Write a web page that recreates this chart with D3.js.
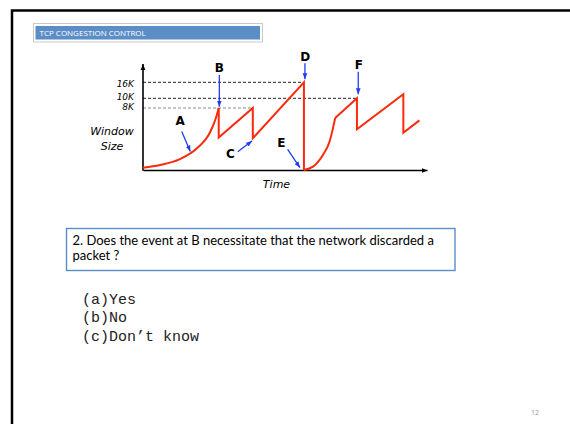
<!DOCTYPE html>
<html>
<head>
<meta charset="utf-8">
<script src="https://cdn.jsdelivr.net/npm/d3@7"></script>
<style>
  body { margin: 0; background: #fff; }
  svg { display: block; }
</style>
</head>
<body>
<div id="chart"></div>
<script>
/**
 * Data
 */
// congestion window trace: time in rounds, window in K
const traceTime   = [0, 1.8, 3.9, 5.7, 7.1, 7.7, 8.0, 8.0, 11.6, 11.6, 17.0, 17.0, 17.96, 19.0, 19.7, 20.07, 20.3, 22.6, 22.6, 27.5, 27.5, 29.2];
const traceWindow = [0.3, 0.65, 1.4, 2.8, 4.9, 6.7, 8, 4.2, 8, 4.1, 16, 0, 0.43, 1.94, 3.65, 5.4, 6.7, 10, 5.25, 11.5, 4.8, 6.4];
// "ss" = slow start (curved), "ca" = congestion avoidance / drops (straight)
const tracePhase  = ["ss", "ss", "ss", "ss", "ss", "ss", "ss", "ca", "ca", "ca", "ca", "ss", "ss", "ss", "ss", "ss", "ss", "ca", "ca", "ca", "ca", "ca"];

const guideValues = [16, 10, 8];
const guideLabels = ["16K", "10K", "8K"];
const guideUntil  = [17, 22.6, 11.6];

const eventLabels = ["A", "B", "C", "D", "E", "F"];
const eventTime   = [5, 8, 11.6, 17, 17, 22.6];
const eventWindow = [2.4, 8, 4.1, 16, 0, 10];

const titleText = "TCP CONGESTION CONTROL";
const questionLines = ["2. Does the event at B necessitate that the network discarded a", "packet ?"];
const answerOptions = ["(a)Yes", "(b)No", "(c)Don\u2019t know"];
const pageNumber = "12";

/**
 * Basic Settings
 */
const canvasWidth = 570;
const canvasHeight = 424;
const plotLeft = 143;
const plotRight = 427;
const plotBottom = 170;
const axisTop = 64;

const red = "#fb2a0d";
const blue = "#1f3df2";
const slideBlue = "#5b8ec6";

const svg = d3.select("#chart")
  .append("svg")
  .attr("width", canvasWidth)
  .attr("height", canvasHeight)
  .style("background", "#fff");

const defs = svg.append("defs");
function marker(id, color, size) {
  defs.append("marker")
    .attr("id", id)
    .attr("markerUnits", "userSpaceOnUse")
    .attr("viewBox", "0 0 10 10")
    .attr("refX", 10)
    .attr("refY", 5)
    .attr("markerWidth", size)
    .attr("markerHeight", size)
    .attr("orient", "auto")
    .append("path")
    .attr("d", "M0,1 L10,5 L0,9 z")
    .attr("fill", color);
}
marker("arrow-blue", blue, 6);
marker("arrow-black", "#000", 6);

/**
 * Slide frame and title
 */
svg.append("rect")
  .attr("x", 12).attr("y", 10.5)
  .attr("width", 700).attr("height", 600)
  .attr("fill", "none")
  .attr("stroke", "#000")
  .attr("stroke-width", 2.5);

svg.append("rect")
  .attr("x", 33.5).attr("y", 23.5)
  .attr("width", 229).attr("height", 18.5)
  .attr("fill", "#fff")
  .attr("stroke", "#c9c9c9");
svg.append("rect")
  .attr("x", 35.5).attr("y", 26)
  .attr("width", 224.5).attr("height", 13.5)
  .attr("fill", slideBlue);
svg.append("text")
  .attr("x", 39.5).attr("y", 36)
  .attr("fill", "#fff")
  .style("font-family", "'Open Sans', sans-serif")
  .style("font-size", "8px")
  .text(titleText);

/**
 * Scales
 */
const xScale = d3.scaleLinear()
  .domain([0, 30])
  .range([plotLeft, plotRight]);

// the slide's window axis is not to scale, so use a piecewise scale
const yScale = d3.scaleLinear()
  .domain([0, 8, 10, 16])
  .range([plotBottom, 108, 98.3, 82.3]);

/**
 * Guides
 */
guideValues.forEach(function(v, i) {
  svg.append("line")
    .attr("x1", xScale(0)).attr("x2", xScale(guideUntil[i]))
    .attr("y1", yScale(v)).attr("y2", yScale(v))
    .attr("stroke", v === 8 ? "#8a8a8a" : "#222")
    .attr("stroke-width", 1)
    .attr("stroke-dasharray", "3,2");
});

/**
 * Axes
 */
const xAxis = d3.axisBottom(xScale).tickValues([]).tickSizeOuter(0);
const gx = svg.append("g")
  .attr("transform", "translate(0," + plotBottom + ")")
  .call(xAxis);
gx.select(".domain")
  .attr("stroke", "#000")
  .attr("stroke-width", 1.6)
  .attr("marker-end", "url(#arrow-black)");

svg.append("line")
  .attr("x1", plotLeft).attr("x2", plotLeft)
  .attr("y1", plotBottom + 0.8).attr("y2", axisTop)
  .attr("stroke", "#000")
  .attr("stroke-width", 1.6)
  .attr("marker-end", "url(#arrow-black)");

const yAxis = d3.axisLeft(yScale)
  .tickValues(guideValues)
  .tickSize(0)
  .tickPadding(9)
  .tickFormat(function(d, i) { return guideLabels[i]; });
const gy = svg.append("g")
  .attr("transform", "translate(" + plotLeft + ",0)")
  .call(yAxis);
gy.select(".domain").remove();
gy.selectAll("text")
  .attr("fill", "#000")
  .attr("dy", function(d) { return d === 8 ? "0.22em" : (d === 10 ? "0.11em" : "0.47em"); })
  .style("font-family", "'DejaVu Sans', sans-serif")
  .style("font-style", "italic")
  .style("font-size", "9px");

svg.append("text")
  .attr("x", 112).attr("y", 134.5)
  .attr("text-anchor", "middle")
  .style("font-family", "'DejaVu Sans', sans-serif")
  .style("font-style", "italic")
  .style("font-size", "11px")
  .text("Window");
svg.append("text")
  .attr("x", 112).attr("y", 149.5)
  .attr("text-anchor", "middle")
  .style("font-family", "'DejaVu Sans', sans-serif")
  .style("font-style", "italic")
  .style("font-size", "11px")
  .text("Size");
svg.append("text")
  .attr("x", 276.5).attr("y", 187.5)
  .attr("text-anchor", "middle")
  .style("font-family", "'DejaVu Sans', sans-serif")
  .style("font-style", "italic")
  .style("font-size", "11px")
  .text("Time");

/**
 * Window trace
 */
const tracePoints = traceTime.map(function(t, i) {
  return { t: t, w: traceWindow[i], p: tracePhase[i] };
});
const runs = [];
for (let i = 0; i < tracePoints.length - 1; i++) {
  const curved = tracePoints[i].p === "ss" && tracePoints[i + 1].p === "ss";
  const last = runs[runs.length - 1];
  if (last && last.curved === curved) last.pts.push(tracePoints[i + 1]);
  else runs.push({ curved: curved, pts: [tracePoints[i], tracePoints[i + 1]] });
}

const line = d3.line()
  .x(function(d) { return xScale(d.t); })
  .y(function(d) { return yScale(d.w); });

svg.selectAll(".trace")
  .data(runs)
  .enter()
  .append("path")
  .attr("class", "trace")
  .attr("d", function(r) {
    return line.curve(r.curved ? d3.curveMonotoneX : d3.curveLinear)(r.pts);
  })
  .attr("fill", "none")
  .attr("stroke", red)
  .attr("stroke-width", 2)
  .attr("stroke-linejoin", "miter")
  .attr("stroke-linecap", "butt");

/**
 * Event annotations
 */
// pixel offsets from the event point: arrow tail, arrow head, label
const eventLayout = {
  A: { tail: [-8.6, -20], head: [0, 0], label: [-10.3, -26.4] },
  B: { tail: [0.6, -33], head: [0.6, -1.3], label: [0.6, -35.7] },
  C: { tail: [-15.1, 13.5], head: [-0.8, 2.8], label: [-22.5, 20.1] },
  D: { tail: [1, -19], head: [1, -3], label: [1.2, -21.3] },
  E: { tail: [-16.3, -20.7], head: [-4, -2.3], label: [-22.7, -23.3] },
  F: { tail: [1.3, -26.6], head: [1.3, -4], label: [2, -29] }
};

eventLabels.forEach(function(name, i) {
  const px = xScale(eventTime[i]);
  const py = yScale(eventWindow[i]);
  const lay = eventLayout[name];
  svg.append("line")
    .attr("x1", px + lay.tail[0]).attr("y1", py + lay.tail[1])
    .attr("x2", px + lay.head[0]).attr("y2", py + lay.head[1])
    .attr("stroke", blue)
    .attr("stroke-width", 1.3)
    .attr("marker-end", "url(#arrow-blue)");
  svg.append("text")
    .attr("x", px + lay.label[0]).attr("y", py + lay.label[1])
    .attr("text-anchor", "middle")
    .style("font-family", "'DejaVu Sans', sans-serif")
    .style("font-weight", "bold")
    .style("font-size", "12px")
    .text(name);
});

/**
 * Question box
 */
svg.append("rect")
  .attr("x", 66.5).attr("y", 228.5)
  .attr("width", 388.5).attr("height", 42)
  .attr("fill", "#fff")
  .attr("stroke", "#5b8ec6")
  .attr("stroke-width", 1.4);

svg.append("text")
  .attr("class", "question")
  .attr("y", 244.6)
  .style("font-family", "Lato, sans-serif")
  .style("font-size", "13px")
  .attr("fill", "#000")
  .selectAll("tspan")
  .data(questionLines)
  .enter()
  .append("tspan")
  .attr("x", 72.5)
  .attr("dy", function(d, i) { return i === 0 ? 0 : 15.7; })
  .text(function(d) { return d; });

svg.selectAll(".option")
  .data(answerOptions)
  .enter()
  .append("text")
  .attr("class", "option")
  .attr("x", 82)
  .attr("y", function(d, i) { return 304 + i * 18.4; })
  .style("font-family", "'Liberation Mono', monospace")
  .style("font-size", "15px")
  .attr("fill", "#222")
  .text(function(d) { return d; });

svg.append("text")
  .attr("x", 535).attr("y", 414.5)
  .attr("text-anchor", "middle")
  .style("font-family", "'Open Sans', sans-serif")
  .style("font-size", "7px")
  .attr("fill", "#999")
  .text(pageNumber);
</script>
</body>
</html>
